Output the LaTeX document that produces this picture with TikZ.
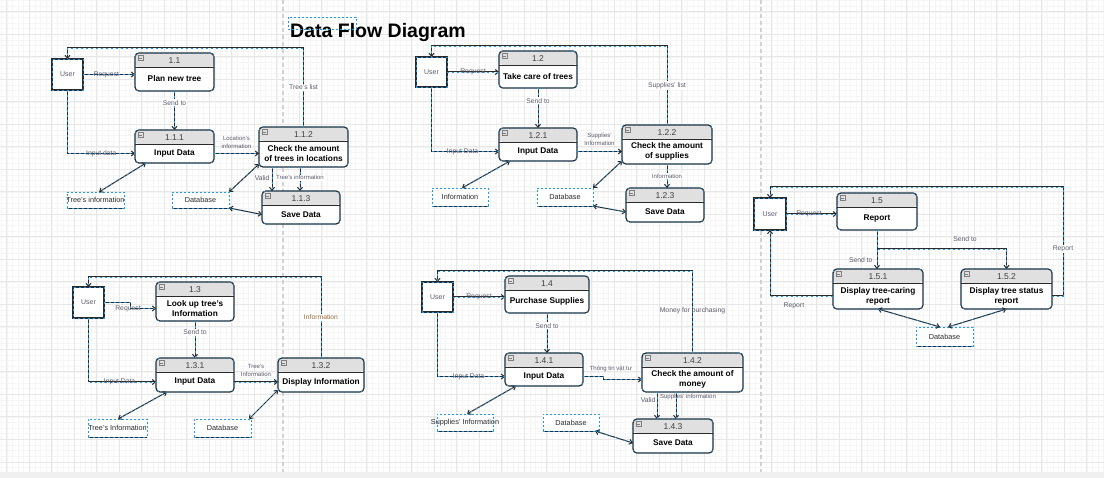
\documentclass[tikz,border=0pt]{standalone}
\usepackage{fontspec}
\setmainfont{Liberation Sans}
\usetikzlibrary{arrows.meta}

\definecolor{selblue}{HTML}{1E9BF0}
\definecolor{darkline}{HTML}{2A2A2A}
\definecolor{headgray}{HTML}{E0E0E0}
\definecolor{lblgray}{HTML}{5A5A6E}
\definecolor{lblbrown}{HTML}{9A6A3A}
\definecolor{gridminor}{HTML}{F5F5F5}
\definecolor{gridmajor}{HTML}{E7E7E7}
\definecolor{sepgray}{HTML}{D2D2D2}

\tikzset{
  seldash/.style={postaction={draw=selblue, line width=0.6pt, dash pattern=on 2pt off 3pt, -}},
  procframe/.style={rectangle, rounded corners=4pt, draw=darkline, line width=1.2pt, fill=white,
    inner sep=0pt, outer sep=0pt,
    path picture={\fill[headgray] (path picture bounding box.north west) rectangle ([yshift=-14pt]path picture bounding box.north east);},
    seldash},
  headline/.style={draw=darkline, line width=0.9pt},
  iconline/.style={draw=darkline!60, line width=0.4pt},
  procnum/.style={font=\fontsize{8.5}{9}\selectfont, text=darkline!90, inner sep=0pt},
  proctitle/.style={font=\bfseries\fontsize{8.3}{10}\selectfont, align=center, inner sep=0pt, outer sep=0pt},
  userbox/.style={rectangle, draw=darkline, line width=1.1pt, fill=white, inner sep=0pt, outer sep=0pt,
    font=\fontsize{7}{8}\selectfont, text=lblgray, seldash},
  storebox/.style={rectangle, draw=selblue, line width=0.8pt, dash pattern=on 2pt off 2pt, fill=white,
    inner sep=0pt, outer sep=0pt},
  storebase/.style={draw=darkline, line width=0.9pt, seldash},
  storetext/.style={font=\fontsize{7.3}{8}\selectfont, text=darkline, inner sep=0pt},
  dataflow/.style={draw=darkline, line width=1pt, -{Straight Barb[length=3pt,width=5pt]}, seldash},
  twoway/.style={dataflow, {Straight Barb[length=3pt,width=5pt]}-{Straight Barb[length=3pt,width=5pt]}},
  lbl/.style={font=\fontsize{6.8}{8}\selectfont, text=lblgray, inner sep=1pt},
  lblv/.style={lbl, fill=white},
  lblsm/.style={lbl, font=\fontsize{6}{8}\selectfont, align=center},
}

% process box: name, x1, y1, x2, y2, number, title
\newcommand{\dfdproc}[7]{%
  \node[procframe, minimum width={(#4-#2)*1pt}, minimum height={(#5-#3)*1pt}] (#1) at ({(#2+#4)/2},{(#3+#5)/2}) {};
  \draw[headline] ({#2},{#3+14}) -- ({#4},{#3+14});
  \draw[iconline] ({#2+3},{#3+2.5}) rectangle ({#2+8},{#3+7.5}) ({#2+4},{#3+5}) -- ({#2+7},{#3+5});
  \node[procnum] at ({(#2+#4)/2},{#3+7.5}) {#6};
  \node[proctitle, minimum width={(#4-#2)*1pt}, minimum height={(#5-#3-14)*1pt}] (#1-body) at ({(#2+#4)/2},{(#3+14+#5)/2}) {#7};
}
% data store: name, x1, y1, x2, y2, text
\newcommand{\dfdstore}[6]{%
  \node[storebox, minimum width={(#4-#2)*1pt}, minimum height={(#5-#3)*1pt}] (#1) at ({(#2+#4)/2},{(#3+#5)/2}) {};
  \draw[storebase] (#1.south west) -- (#1.south east);
  \node[storetext] at (#1) {#6};
}

\begin{document}
\begin{tikzpicture}[x=1pt, y=-1pt]
\useasboundingbox (0,0) rectangle (1104,478);
\fill[white] (0,0) rectangle (1104,478);

% grid
\foreach \k in {0,...,196} \draw[gridminor, line width=0.4pt] ({1.075+5.625*\k},0) -- ({1.075+5.625*\k},472);
\foreach \k in {0,...,83} \draw[gridminor, line width=0.4pt] (0,{0.55+5.625*\k}) -- (1104,{0.55+5.625*\k});
\foreach \k in {0,...,48} \draw[gridmajor, line width=0.6pt] ({6.7+22.5*\k},0) -- ({6.7+22.5*\k},472);
\foreach \k in {0,...,20} \draw[gridmajor, line width=0.6pt] (0,{11.8+22.5*\k}) -- (1104,{11.8+22.5*\k});
\fill[black!6] (0,472) rectangle (1104,478);
\draw[sepgray, line width=1.2pt, dash pattern=on 4pt off 3pt] (283,0) -- (283,472);
\draw[sepgray, line width=1.2pt, dash pattern=on 4pt off 3pt] (761,0) -- (761,472);

% title
\node[anchor=base west, font=\bfseries\fontsize{19.5}{22}\selectfont, inner sep=0pt] (title) at (290,38) {Data Flow Diagram};
\draw[selblue, line width=0.8pt, dash pattern=on 2pt off 2pt] (288,17) rectangle (356,29);

% 1.1
\node[userbox, minimum size=31pt] (user1) at (67.5,74.5) {User};
\dfdproc{p11}{135}{53}{214}{91}{1.1}{Plan new tree}
\dfdproc{p111}{135}{130}{214}{163}{1.1.1}{Input Data}
\dfdproc{p112}{259}{127}{348}{167}{1.1.2}{Check the amount\\of trees in locations}
\dfdproc{p113}{262}{191}{340}{224}{1.1.3}{Save Data}
\dfdstore{s11}{67}{192}{124}{208}{Tree's information}
\dfdstore{s12}{172}{192}{229}{208}{Database}

\draw[dataflow] (user1.east) -- node[lbl, pos=0.45] {Request} (user1.east -| p11.west);
\draw[dataflow] (p11.south) -- node[lblv, pos=0.3] {Send to} (p111.north);
\draw[dataflow] (user1.south) |- node[lbl, pos=0.75] {Input data} (p111-body.west);
\draw[dataflow] (p111-body.east) -- node[lblsm, above=3pt] {Location's\\information} (p111-body.east -| p112.west);
\draw[dataflow] (p112.north) -- node[lblv] {Tree's list} ++(0,-79) -| (user1.north);
\draw[dataflow] ([xshift=13pt]p112.south west) -- node[lbl, left=1pt, pos=0.45] {Valid} ([xshift=13pt]p112.south west |- p113.north);
\draw[dataflow] ([xshift=41pt]p112.south west) -- node[lblsm, fill=white, pos=0.45] {Tree's information} ([xshift=41pt]p112.south west |- p113.north);
\draw[twoway] ([xshift=11pt]p111.south west) -- ([xshift=32pt]s11.north west);
\draw[twoway] ([yshift=3pt]p112.south west) -- (s12.north east);
\draw[twoway] (s12.south east) -- (p113-body.west);

% 1.2
\node[userbox, minimum width=31pt, minimum height=30pt] (user2) at (431.5,72) {User};
\dfdproc{p12}{499}{51}{577}{88}{1.2}{Take care of trees}
\dfdproc{p121}{499}{128}{577}{161}{1.2.1}{Input Data}
\dfdproc{p122}{622}{125}{712}{164}{1.2.2}{Check the amount\\of supplies}
\dfdproc{p123}{626}{188}{704}{222}{1.2.3}{Save Data}
\dfdstore{s21}{432}{188}{488}{206}{Information}
\dfdstore{s22}{537}{188}{593}{206}{Database}

\draw[dataflow] (user2.east) -- node[lbl] {Request} (user2.east -| p12.west);
\draw[dataflow] (p12.south) -- node[lblv, pos=0.32] {Send to} (p121.north);
\draw[dataflow] (user2.south) |- node[lbl, pos=0.73] {Input Data} (p121-body.west);
\draw[dataflow] (p121-body.east) -- node[lblsm, above=4pt] {Supplies'\\Information} (p121-body.east -| p122.west);
\draw[dataflow] (p122.north) -- node[lblv] {Supplies' list} ++(0,-79) -| (user2.north);
\draw[dataflow] (p122.south) -- node[lblsm, fill=white] {Information} (p122.south |- p123.north);
\draw[twoway] ([xshift=11pt]p121.south west) -- ([xshift=30pt]s21.north west);
\draw[twoway] ([yshift=3pt]p122.south west) -- (s22.north east);
\draw[twoway] (s22.south east) -- (p123-body.west);

% 1.3
\node[userbox, minimum size=31pt] (user3) at (88.5,302.5) {User};
\dfdproc{p13}{156}{282}{234}{321}{1.3}{Look up tree's\\Information}
\dfdproc{p131}{156}{358}{234}{392}{1.3.1}{Input Data}
\dfdproc{p132}{278}{358}{364}{392}{1.3.2}{Display Information}
\dfdstore{s31}{88}{419}{147}{437}{Tree's Information}
\dfdstore{s32}{194}{419}{251}{437}{Database}

\draw[dataflow] (user3.east) -- ++(26,0) |- node[lbl, xshift=-2pt] {Request} (p13-body.west);
\draw[dataflow] (p13.south) -- node[lblv, pos=0.3] {Send to} (p131.north);
\draw[dataflow] (user3.south) |- node[lbl, pos=0.73] {Input Data} (p131-body.west);
\draw[dataflow] (p131-body.east) -- node[lblsm, above=4pt] {Tree's\\Information} (p131-body.east -| p132.west);
\draw[dataflow] (p132.north) -- node[lblv, text=lblbrown] {Information} ++(0,-81) -| (user3.north);
\draw[twoway] ([xshift=11pt]p131.south west) -- ([xshift=30pt]s31.north west);
\draw[twoway] ([yshift=2pt]p132.south west) -- ([xshift=-2pt]s32.north east);

% 1.4
\node[userbox, minimum width=31pt, minimum height=30pt] (user4) at (437.5,297) {User};
\dfdproc{p14}{505}{276}{589}{313}{1.4}{Purchase Supplies}
\dfdproc{p141}{505}{353}{583}{386}{1.4.1}{Input Data}
\dfdproc{p142}{642}{353}{743}{392}{1.4.2}{Check the amount of\\money}
\dfdproc{p143}{633}{419}{713}{453}{1.4.3}{Save Data}
\dfdstore{s41}{437}{414}{493}{431}{Supplies' Information}
\dfdstore{s42}{543}{414}{599}{431}{Database}

\draw[dataflow] (user4.east) -- node[lbl] {Request} (user4.east -| p14.west);
\draw[dataflow] (p14.south) -- node[lblv, pos=0.32] {Send to} (p14.south |- p141.north);
\draw[dataflow] (user4.south) |- node[lbl, pos=0.73] {Input Data} (p141-body.west);
\draw[dataflow] (p141-body.east) -- ++(20,0) |- node[lblsm, above=6pt, pos=0.6] {Thông tin vật tư} (p142-body.west);
\draw[dataflow] (p142.north) -- node[lbl, pos=0.52] {Money for purchasing} ++(0,-82) -| (user4.north);
\draw[dataflow] ([xshift=15pt]p142.south west) -- node[lbl, left=0pt, pos=0.3] {Valid} ([xshift=15pt]p142.south west |- p143.north);
\draw[dataflow] ([xshift=34pt]p142.south west) -- node[lblsm, pos=0.2, xshift=12pt] {Supplies' information} ([xshift=34pt]p142.south west |- p143.north);
\draw[twoway] ([xshift=11pt]p141.south west) -- ([xshift=30pt]s41.north west);
\draw[twoway] ([xshift=-4pt]s42.south east) -- (p143-body.west);

% 1.5
\node[userbox, minimum size=32pt] (user5) at (770,214) {User};
\dfdproc{p15}{837}{193}{917}{230}{1.5}{Report}
\dfdproc{p151}{833}{269}{923}{309}{1.5.1}{Display tree-caring\\report}
\dfdproc{p152}{961}{269}{1052}{309}{1.5.2}{Display tree status\\report}
\dfdstore{s51}{916}{327}{973}{346}{Database}

\draw[dataflow] (user5.east) -- node[lbl, pos=0.45] {Request} (user5.east -| p15.west);
\draw[dataflow] (p15.south) -- node[lbl, left=3pt, pos=0.77] {Send to} (p15.south |- p151.north);
\draw[dataflow] (p15.south) -- ++(0,19) -| node[lbl, above=6pt, pos=0.34] {Send to} (p152.north);
\draw[dataflow] (p152-body.east) -- ++(11,0) -- node[lblv, pos=0.43] {Report} ++(0,-109) -| (user5.north);
\draw[dataflow] (p151-body.west) -| node[lbl, below=5pt, pos=0.31] {Report} (user5.south);
\draw[twoway] (p151.south) -- ([xshift=24pt]s51.north west);
\draw[twoway] (p152.south) -- ([xshift=32pt]s51.north west);
\end{tikzpicture}
\end{document}
